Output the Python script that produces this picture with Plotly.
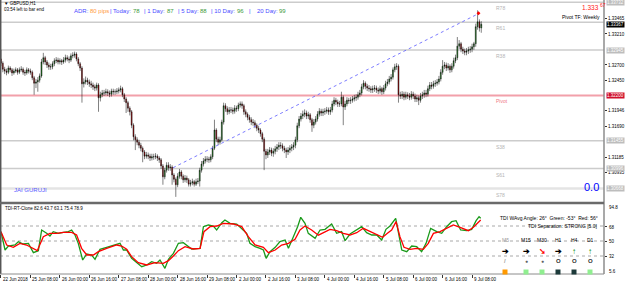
import plotly.graph_objects as go

# ---------------- DATA ----------------
first_open = 1.3280
closes = [
1.3273,1.3263,1.3260,1.3258,1.3265,1.3262,1.3257,1.3260,1.3262,1.3258,
1.3262,1.3263,1.3258,1.3257,1.3262,1.3260,1.3258,1.3249,1.3240,1.3242,
1.3245,1.3252,1.3275,1.3282,1.3275,1.3270,1.3267,1.3267,1.3272,1.3277,
1.3278,1.3275,1.3277,1.3275,1.3278,1.3282,1.3280,1.3278,1.3285,1.3286,
1.3288,1.3280,1.3272,1.3265,1.3239,1.3242,1.3245,1.3242,1.3239,1.3237,
1.3234,1.3232,1.3237,1.3216,1.3221,1.3224,1.3224,1.3226,1.3224,1.3222,
1.3227,1.3226,1.3226,1.3227,1.3229,1.3231,1.3221,1.3214,1.3208,1.3199,
1.3193,1.3171,1.3152,1.3147,1.3143,1.3138,1.3133,1.3127,1.3120,1.3122,
1.3120,1.3117,1.3119,1.3119,1.3120,1.3117,1.3114,1.3104,1.3086,1.3097,
1.3105,1.3101,1.3102,1.3089,1.3082,1.3073,1.3087,1.3094,1.3087,1.3081,
1.3084,1.3081,1.3074,1.3076,1.3078,1.3074,1.3078,1.3079,1.3097,1.3107,
1.3112,1.3115,1.3115,1.3114,1.3119,1.3133,1.3163,1.3148,1.3143,1.3147,
1.3176,1.3203,1.3198,1.3193,1.3196,1.3196,1.3194,1.3199,1.3198,1.3204,
1.3206,1.3203,1.3193,1.3189,1.3184,1.3180,1.3176,1.3175,1.3171,1.3166,
1.3163,1.3157,1.3148,1.3128,1.3122,1.3127,1.3130,1.3125,1.3128,1.3132,
1.3135,1.3138,1.3137,1.3133,1.3130,1.3127,1.3130,1.3133,1.3135,1.3138,
1.3147,1.3170,1.3181,1.3186,1.3189,1.3191,1.3186,1.3188,1.3180,1.3171,
1.3176,1.3181,1.3189,1.3194,1.3191,1.3193,1.3194,1.3196,1.3193,1.3196,
1.3206,1.3212,1.3209,1.3206,1.3206,1.3217,1.3201,1.3206,1.3212,1.3211,
1.3212,1.3214,1.3216,1.3217,1.3221,1.3224,1.3234,1.3240,1.3235,1.3232,
1.3231,1.3229,1.3231,1.3232,1.3229,1.3227,1.3231,1.3226,1.3232,1.3239,
1.3242,1.3247,1.3250,1.3262,1.3267,1.3268,1.3221,1.3219,1.3222,1.3217,
1.3221,1.3219,1.3217,1.3222,1.3219,1.3214,1.3216,1.3212,1.3219,1.3221,
1.3224,1.3222,1.3231,1.3237,1.3235,1.3239,1.3240,1.3242,1.3247,1.3258,
1.3268,1.3270,1.3265,1.3268,1.3262,1.3268,1.3277,1.3282,1.3301,1.3305,
1.3296,1.3293,1.3291,1.3293,1.3295,1.3296,1.3300,1.3305,1.3333,1.3341,
1.3331,1.3337]
highs = [
1.3295,1.3276,1.3267,1.3264,1.3269,1.3268,1.3265,1.3264,1.3266,1.3265,
1.3266,1.3268,1.3266,1.3262,1.3266,1.3265,1.3264,1.3261,1.3252,1.3247,
1.3250,1.3256,1.3280,1.3290,1.3285,1.3278,1.3274,1.3272,1.3276,1.3281,
1.3283,1.3282,1.3281,1.3280,1.3283,1.3287,1.3286,1.3284,1.3289,1.3291,
1.3292,1.3291,1.3283,1.3275,1.3268,1.3248,1.3251,1.3249,1.3246,1.3244,
1.3241,1.3238,1.3241,1.3240,1.3226,1.3229,1.3229,1.3231,1.3230,1.3228,
1.3231,1.3231,1.3230,1.3232,1.3233,1.3236,1.3234,1.3224,1.3217,1.3211,
1.3202,1.3196,1.3174,1.3156,1.3151,1.3147,1.3142,1.3136,1.3130,1.3127,
1.3126,1.3124,1.3124,1.3124,1.3125,1.3123,1.3120,1.3117,1.3107,1.3101,
1.3110,1.3110,1.3107,1.3105,1.3092,1.3085,1.3092,1.3099,1.3097,1.3090,
1.3089,1.3088,1.3084,1.3081,1.3083,1.3081,1.3083,1.3084,1.3101,1.3112,
1.3117,1.3120,1.3120,1.3119,1.3123,1.3137,1.3180,1.3166,1.3152,1.3152,
1.3180,1.3208,1.3207,1.3202,1.3201,1.3201,1.3200,1.3204,1.3203,1.3208,
1.3210,1.3210,1.3206,1.3197,1.3192,1.3188,1.3184,1.3181,1.3179,1.3174,
1.3170,1.3166,1.3160,1.3151,1.3132,1.3132,1.3135,1.3134,1.3133,1.3137,
1.3140,1.3143,1.3143,1.3141,1.3137,1.3134,1.3135,1.3138,1.3140,1.3143,
1.3152,1.3175,1.3186,1.3191,1.3195,1.3197,1.3195,1.3193,1.3191,1.3183,
1.3181,1.3186,1.3194,1.3199,1.3198,1.3198,1.3199,1.3201,1.3200,1.3201,
1.3211,1.3217,1.3216,1.3213,1.3211,1.3226,1.3220,1.3211,1.3217,1.3216,
1.3217,1.3219,1.3221,1.3222,1.3226,1.3229,1.3239,1.3245,1.3243,1.3239,
1.3237,1.3235,1.3236,1.3237,1.3236,1.3233,1.3236,1.3234,1.3237,1.3244,
1.3247,1.3252,1.3255,1.3266,1.3272,1.3273,1.3271,1.3226,1.3227,1.3226,
1.3226,1.3225,1.3224,1.3227,1.3226,1.3223,1.3221,1.3220,1.3224,1.3226,
1.3229,1.3229,1.3236,1.3242,1.3242,1.3244,1.3245,1.3247,1.3252,1.3263,
1.3278,1.3275,1.3274,1.3273,1.3271,1.3273,1.3282,1.3287,1.3316,1.3311,
1.3308,1.3300,1.3297,1.3298,1.3300,1.3301,1.3305,1.3308,1.3338,1.3360,
1.3345,1.3342]
lows = [
1.3268,1.3258,1.3255,1.3253,1.3255,1.3258,1.3252,1.3254,1.3257,1.3254,
1.3255,1.3259,1.3254,1.3252,1.3254,1.3256,1.3254,1.3245,1.3221,1.3232,
1.3226,1.3241,1.3249,1.3271,1.3270,1.3265,1.3262,1.3262,1.3263,1.3268,
1.3273,1.3271,1.3271,1.3270,1.3272,1.3274,1.3276,1.3273,1.3275,1.3281,
1.3282,1.3276,1.3268,1.3260,1.3208,1.3233,1.3238,1.3237,1.3234,1.3232,
1.3229,1.3227,1.3228,1.3193,1.3210,1.3217,1.3219,1.3220,1.3219,1.3217,
1.3218,1.3221,1.3221,1.3222,1.3223,1.3225,1.3217,1.3209,1.3191,1.3193,
1.3187,1.3166,1.3146,1.3130,1.3138,1.3133,1.3128,1.3110,1.3115,1.3116,
1.3115,1.3112,1.3113,1.3114,1.3115,1.3112,1.3109,1.3099,1.3073,1.3082,
1.3093,1.3096,1.3096,1.3073,1.3077,1.3053,1.3069,1.3083,1.3082,1.3076,
1.3077,1.3076,1.3070,1.3070,1.3072,1.3070,1.3071,1.3074,1.3070,1.3093,
1.3103,1.3108,1.3110,1.3109,1.3110,1.3115,1.3130,1.3143,1.3138,1.3139,
1.3144,1.3172,1.3193,1.3188,1.3189,1.3191,1.3189,1.3190,1.3193,1.3194,
1.3200,1.3198,1.3188,1.3184,1.3179,1.3175,1.3171,1.3170,1.3166,1.3161,
1.3158,1.3152,1.3143,1.3097,1.3115,1.3117,1.3122,1.3120,1.3119,1.3123,
1.3127,1.3130,1.3132,1.3128,1.3125,1.3117,1.3122,1.3125,1.3128,1.3130,
1.3133,1.3143,1.3166,1.3177,1.3181,1.3184,1.3181,1.3181,1.3175,1.3160,
1.3166,1.3172,1.3177,1.3185,1.3186,1.3186,1.3188,1.3190,1.3188,1.3188,
1.3192,1.3202,1.3204,1.3201,1.3201,1.3202,1.3171,1.3196,1.3202,1.3206,
1.3206,1.3208,1.3210,1.3211,1.3213,1.3217,1.3220,1.3230,1.3230,1.3227,
1.3226,1.3224,1.3224,1.3226,1.3224,1.3222,1.3223,1.3221,1.3222,1.3228,
1.3235,1.3238,1.3243,1.3246,1.3258,1.3262,1.3208,1.3214,1.3214,1.3212,
1.3213,1.3214,1.3212,1.3213,1.3214,1.3209,1.3209,1.3204,1.3208,1.3214,
1.3216,1.3217,1.3218,1.3227,1.3230,1.3231,1.3234,1.3236,1.3238,1.3243,
1.3254,1.3263,1.3260,1.3261,1.3257,1.3258,1.3264,1.3273,1.3278,1.3296,
1.3291,1.3288,1.3286,1.3286,1.3288,1.3290,1.3291,1.3295,1.3300,1.3328,
1.3325,1.3323]

# Weekly Fibonacci pivot levels
pivot_names = ["R78", "R61", "R38", "Pivot", "S38", "S61", "S78"]
pivot_levels = [1.33732, 1.33404, 1.32945, 1.32200, 1.31455, 1.30996, 1.30668]

# trend line (bar index, price)
trend_bars = [93.5, 259.2]
trend_prices = [1.3101, 1.3354]
current_price = 1.33367

# right price-axis tick labels
price_ticks = [1.33465, 1.33210, 1.32700, 1.32450, 1.31946, 1.31690, 1.31185, 1.30935, 1.30430]

# TDI oscillator (bar index, value)
green_bars = [0,2.2,4,7.6,9.4,12.1,14.9,17.6,20.3,22.1,24.8,26.6,28.4,31.2,33.9,36.6,38.4,40.2,42,44.4,
              46.6,49.3,51.1,53.8,57.4,62,64.7,66.5,68.3,71,73.7,76.5,79.2,81.9,84.6,86.4,89.1,91,93.7,96.4,
              99.1,100.9,103.6,108.2,110,112.7,115.4,117.2,120,121.7,124.5,128.1,130.8,133.5,135.3,138.1,140.8,142.6,144.1,146.2,
              149,151.6,154.4,156.2,158.9,161.2,162.9,165.2,167,170.7,173.4,176.1,179.7,182.4,185.1,187,189.7,193.3,196,198.7,
              201.5,204.2,206.9,209.2,211.4,214.5,216.3,217.8,220.5,223.2,225.9,228.6,231,233.5,236.8,239.5,242.2,244.9,247.3,249.8,
              253.1,255.8,258.2,259.8,260.7]
green_vals = [61.2,39.2,44,45.2,49.2,46.4,47.2,36,38.4,63.2,59.2,56,61.2,59.2,60.4,61.2,63.2,57.2,47.2,27.2,
              34.4,33.2,28,40,42.4,45.2,47.2,39.2,39.2,29.2,24,19.2,21.2,25.2,23.2,27.2,17.2,28,35.2,47.2,
              48,45.2,40.4,41.2,67.2,69.2,68,63.2,72,75.2,71.2,70.4,65.2,59.2,47.2,43.2,41.2,39.2,29.2,37.2,
              42.4,49.2,51.2,41.2,55.2,67.2,78.4,71.2,59.2,53.2,63.2,64,70.4,59.2,61.2,50.4,58.4,64,67.2,60,
              57.2,57.2,51.2,64,68,77.2,55.2,39.2,37.2,44,43.2,37.2,47.2,65.2,61.2,59.2,67.2,73.2,74.4,63.2,
              62.4,64,74.4,79.2,77.2]
red_bars = [0,3.1,6.7,10.3,13.9,17.6,19.7,23,26.6,30.3,33.9,38.4,41.1,43.8,46.6,50.2,52.9,57.4,62.9,65.6,
            68.3,71,74.6,79.2,83.7,88.2,91,93.7,96.4,100,104.5,108.2,110.3,113.6,117.2,120.8,126.3,130.8,134.4,138.1,
            142.6,145.3,149,152.5,156.2,159.8,162.5,165.2,168.8,172.5,174.3,178.8,182.4,186,189.7,193.3,196.9,200.5,204.2,207.4,
            210,212.3,214.7,216.8,219,222.3,225.9,229.5,232.2,235,238.6,242.2,245.8,249.5,254,256.7,259.4,260.7]
red_vals = [61.2,45.2,42.4,47.2,45.2,41.2,38.4,55.2,59.2,59.2,60.4,60.4,57.2,41.2,33.2,33.2,37.2,41.2,45.2,44,
            40,31.2,24,21.2,24,23.2,26.4,32,38.4,43.2,40.4,41.2,61.2,67.2,68,71.2,70.4,67.2,55.2,45.2,
            42.4,36,39.2,45.2,47.2,52,63.2,68,63.2,57,59.2,64,62.4,59.2,57.2,60,65.2,61.2,57.2,54.4,
            59.2,63.2,73.2,55.2,42.4,40,41.2,40,47.2,59.2,61.2,65.2,69.2,66.4,62.4,66.4,73.2,75.2]
osc_levels = [68, 50, 32]

# x-axis labels every 16 H1 bars
date_labels = ["22 Jun 2018", "25 Jun 08:00", "26 Jun 00:00", "26 Jun 16:00", "27 Jun 08:00",
               "28 Jun 00:00", "28 Jun 16:00", "29 Jun 08:00", "2 Jul 00:00", "2 Jul 16:00",
               "3 Jul 08:00", "4 Jul 00:00", "4 Jul 16:00", "5 Jul 08:00", "6 Jul 00:00",
               "6 Jul 16:00", "9 Jul 08:00"]
label_step = 16

# multi-timeframe panel
tf_names = ["M5", "M15", "M30", "H1", "H4", "D1"]
tf_arrows = ["➔", "➔", "➘", "➔", "↑", "↑"]
tf_arrow_colors = ["#000000", "#000000", "#ff0000", "#000000", "#008800", "#008800"]
tf_dots = ["/", "●", "●", "O", "O", "O"]
tf_dot_colors = ["#a0a0a0", "#606060", "#606060", "#303030", "#303030", "#303030"]
tf_squares = ["#ff9900", "#90ee90", "#90ee90", "#1c3a3a", "#1c3a3a", "#90ee90"]

# ---------------- FIGURE ----------------
W, H = 625, 284
PW, PH = 604, 274          # plot area (pixels)
FONT = "Liberation Sans, Arial, sans-serif"
n = len(closes)
bars = list(range(n))
opens = [first_open] + closes[:-1]

X_RANGE = [-0.54, 327.7]
P_RANGE = [1.30446, 1.33769]
O_RANGE = [10.4, 93.2]

def px(xp):
    return xp / PW

def py(yp):
    return 1 - yp / PH

fig = go.Figure()

fig.add_trace(go.Candlestick(
    x=bars, open=opens, high=highs, low=lows, close=closes,
    increasing=dict(line=dict(color="#000000", width=0.5), fillcolor="#1e8c1e"),
    decreasing=dict(line=dict(color="#000000", width=0.5), fillcolor="#b00000"),
    whiskerwidth=0, xaxis="x", yaxis="y", showlegend=False, hoverinfo="skip"))

fig.add_trace(go.Scatter(x=trend_bars, y=trend_prices, mode="lines",
                         line=dict(color="#5a5aff", width=0.8, dash="dot"),
                         xaxis="x", yaxis="y", showlegend=False, hoverinfo="skip"))
fig.add_trace(go.Scatter(x=[trend_bars[1] + 0.3], y=[trend_prices[1] + 0.0001], mode="markers",
                         marker=dict(color="#ff0000", size=3, symbol="diamond"),
                         xaxis="x", yaxis="y", showlegend=False, hoverinfo="skip"))

fig.add_trace(go.Scatter(x=green_bars, y=green_vals, mode="lines",
                         line=dict(color="#1a9a1a", width=1.3),
                         xaxis="x2", yaxis="y2", showlegend=False, hoverinfo="skip"))
fig.add_trace(go.Scatter(x=red_bars, y=red_vals, mode="lines",
                         line=dict(color="#ff0000", width=1.3),
                         xaxis="x2", yaxis="y2", showlegend=False, hoverinfo="skip"))

shapes = []
# pivot lines
for name, lv in zip(pivot_names, pivot_levels):
    if name == "Pivot":
        col, wd = "#f2a0aa", 2
    elif name == "S78":
        col, wd = "#e4e4e4", 2.5
    else:
        col, wd = "#cccccc", 1.5
    shapes.append(dict(type="line", xref="paper", yref="y", x0=0, x1=1, y0=lv, y1=lv,
                       line=dict(color=col, width=wd), layer="below"))
# oscillator dotted levels
for lv in osc_levels:
    shapes.append(dict(type="line", xref="paper", yref="y2", x0=0, x1=1, y0=lv, y1=lv,
                       line=dict(color="#a8a8a8", width=1, dash="dot"), layer="below"))
# borders
shapes.append(dict(type="line", xref="paper", yref="paper", x0=px(0.7), x1=px(0.7), y0=py(0), y1=py(PH),
                   line=dict(color="#555555", width=1.5)))
shapes.append(dict(type="line", xref="paper", yref="paper", x0=px(PW), x1=px(PW), y0=py(0), y1=py(PH),
                   line=dict(color="#8c8c8c", width=1.5)))
shapes.append(dict(type="line", xref="paper", yref="paper", x0=0, x1=px(PW), y0=py(203), y1=py(203),
                   line=dict(color="#6a6a6a", width=2.5)))
shapes.append(dict(type="line", xref="paper", yref="paper", x0=0, x1=px(PW), y0=py(PH), y1=py(PH),
                   line=dict(color="#8c8c8c", width=1)))
# timeframe squares
tf_x = [505, 526, 542, 558, 574, 590]
for xc, c in zip(tf_x, tf_squares):
    shapes.append(dict(type="rect", xref="paper", yref="paper", x0=px(xc - 2.5), x1=px(xc + 2.5),
                       y0=py(274.5), y1=py(269.5), fillcolor=c, line=dict(width=0)))

ann = []
def text(xp, yp, t, size=5, color="#000000", anchor="left", bg=None, yanchor="middle"):
    d = dict(x=px(xp), y=py(yp), xref="paper", yref="paper", text=t, showarrow=False,
             xanchor=anchor, yanchor=yanchor, font=dict(size=size, color=color, family=FONT))
    if bg:
        d["bgcolor"] = bg
        d["borderpad"] = 0
    ann.append(d)

# header texts
text(2, 3.5, "▼ GBPUSD,H1", 4.5)
text(2, 9.5, "03:54 left to bar end", 4.5)
adr = [(72, "ADR:", "#4b4bff"), (88, "80 pips", "#ff9a3c"), (108, "| Today:", "#4b4bff"),
       (131, "78", "#3c9a3c"), (142, "| 1 Day:", "#4b4bff"), (165, "87", "#3c9a3c"),
       (176, "| 5 Day:", "#4b4bff"), (198, "88", "#3c9a3c"), (209, "| 10 Day:", "#4b4bff"),
       (235, "96", "#3c9a3c"), (247, "|", "#4b4bff"), (255, "20 Day:", "#4b4bff"), (277, "99", "#3c9a3c")]
for xp, t, c in adr:
    text(xp, 10.8, t, 6, c)

# pivot labels
for name, lv in zip(pivot_names, pivot_levels):
    col = "#f07a86" if name == "Pivot" else "#b4b4b4"
    ann.append(dict(x=px(494), y=lv, xref="paper", yref="y", text=name, showarrow=False, xanchor="left",
                    yanchor="top", yshift=-1, font=dict(size=5, color=col, family=FONT)))

text(602, 17.5, "Pivot TF: Weekly", 5, "#000000", "right")
text(580, 7, "1.333", 6.5, "#ff2020", "left")
text(597.5, 4.8, "67", 5, "#ff2020", "left")
text(12, 190, "JAI GURUJI", 6, "#5a5aff")
text(582, 186.5, "0.0", 11, "#0000ff")

# right axis level boxes
box_levels = [("R78", "#bdbdbd"), ("R38", "#bdbdbd"), ("Pivot", "#d0102c"),
              ("S38", "#bdbdbd"), ("S61", "#bdbdbd"), ("S78", "#bdbdbd")]
for name, bg in box_levels:
    lv = pivot_levels[pivot_names.index(name)]
    ann.append(dict(x=px(606), y=lv, xref="paper", yref="y", text=f"{lv:.5f}", showarrow=False,
                    xanchor="left", yanchor="middle", bgcolor=bg, borderpad=0,
                    font=dict(size=4.5, color="#ffffff", family=FONT)))
ann.append(dict(x=px(606), y=current_price, xref="paper", yref="y", text=f"{current_price:.5f}",
                showarrow=False, xanchor="left", yanchor="middle", bgcolor="#000000", borderpad=0,
                font=dict(size=4.5, color="#ffffff", family=FONT)))

# oscillator texts
text(3, 208, "TDI-RT-Clone 82.6 43.7 63.1 75.4 78.9", 4.5)
text(600, 218, "TDI WAvg Angle: 26°  Green: -53°  Red: 56°", 5, "#000000", "right")
text(600, 225.5, "TDI Separation: STRONG [5.0]", 5, "#000000", "right")
for lab, yp in [("94.8", 207), ("68", 227), ("50", 241.5), ("32", 256), ("5.6", 271)]:
    text(607, yp, lab, 4.5)

for i, xc in enumerate(tf_x):
    text(xc, 239.5, tf_names[i], 5, "#9a9a9a" if i == 0 else "#000000", "center")
    text(xc, 251, "<b>" + tf_arrows[i] + "</b>", 8, tf_arrow_colors[i], "center")
    text(xc, 261, "<b>" + tf_dots[i] + "</b>", 6 if tf_dots[i] != "●" else 5, tf_dot_colors[i], "center")

# x-axis date labels
for k, lab in enumerate(date_labels):
    ann.append(dict(x=k * label_step, y=py(279.5), xref="x2", yref="paper", text=lab, showarrow=False,
                    xanchor="left", yanchor="middle", font=dict(size=4.5, color="#000000", family=FONT)))

fig.update_layout(
    width=W, height=H, margin=dict(l=0, r=W - PW, t=0, b=H - PH),
    paper_bgcolor="#ffffff", plot_bgcolor="#ffffff", showlegend=False,
    xaxis=dict(domain=[0, 1], anchor="y", range=X_RANGE, showgrid=False, zeroline=False,
               showticklabels=False, rangeslider=dict(visible=False), fixedrange=True),
    yaxis=dict(domain=[py(202), 1], range=P_RANGE, side="right", showgrid=False, zeroline=False,
               tickvals=price_ticks, ticktext=[f"{v:.5f}" for v in price_ticks],
               ticks="outside", ticklen=2, tickcolor="#333333",
               tickfont=dict(size=4.5, color="#000000", family=FONT)),
    xaxis2=dict(domain=[0, 1], anchor="y2", range=X_RANGE, showgrid=False, zeroline=False,
                showticklabels=False, matches="x",
                tickvals=[k * label_step for k in range(len(date_labels))],
                ticks="outside", ticklen=3, tickcolor="#333333"),
    yaxis2=dict(domain=[0, py(205)], range=O_RANGE, side="right", showgrid=False, zeroline=False,
                showticklabels=False, tickvals=[94.8, 68, 50, 32, 5.6], ticks="outside",
                ticklen=2, tickcolor="#333333"),
    shapes=shapes, annotations=ann,
)

fig.write_html("out.html")
